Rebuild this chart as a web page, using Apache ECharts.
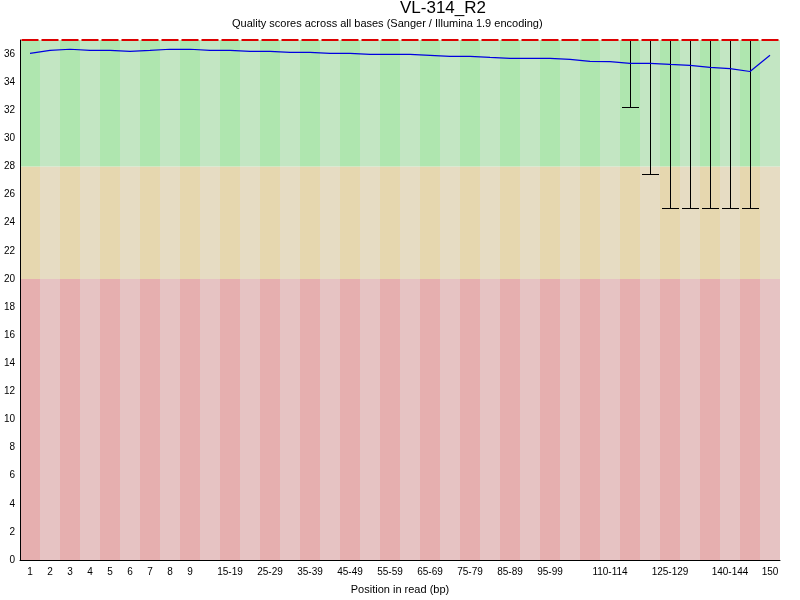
<!DOCTYPE html>
<html>
<head>
<meta charset="utf-8">
<title>VL-314_R2</title>
<script src="https://cdn.jsdelivr.net/npm/echarts@6/dist/echarts.min.js"></script>
<style>
	html, body { margin: 0; padding: 0; background: #fff; }
	#container { width: 800px; height: 600px; }
</style>
</head>
<body>
<div id="container"></div>
<script>
'use strict';

// 碱基位置分组
var positions = ['1', '2', '3', '4', '5', '6', '7', '8', '9',
	'10-14', '15-19', '20-24', '25-29', '30-34', '35-39', '40-44', '45-49',
	'50-54', '55-59', '60-64', '65-69', '70-74', '75-79', '80-84', '85-89',
	'90-94', '95-99', '100-104', '105-109', '110-114', '115-119', '120-124',
	'125-129', '130-134', '135-139', '140-144', '145-149', '150'];

// 显示出来的横轴标签
var shownLabels = [0, 1, 2, 3, 4, 5, 6, 7, 8, 10, 12, 14, 16, 18, 20, 22, 24, 26, 29, 32, 35, 37];

// 平均质量
var meanQuality = [36.05, 36.26, 36.34, 36.26, 36.26, 36.19, 36.26, 36.34, 36.34, 36.26,
	36.26, 36.19, 36.19, 36.12, 36.12, 36.05, 36.05, 35.98, 35.98, 35.98,
	35.91, 35.84, 35.84, 35.76, 35.69, 35.69, 35.69, 35.62, 35.48, 35.46,
	35.34, 35.34, 35.26, 35.19, 35.05, 34.96, 34.76, 35.91];

// 中位数
var medianQuality = [37, 37, 37, 37, 37, 37, 37, 37, 37, 37,
	37, 37, 37, 37, 37, 37, 37, 37, 37, 37,
	37, 37, 37, 37, 37, 37, 37, 37, 37, 37,
	37, 37, 37, 37, 37, 37, 37, 37];

// 10% 分位
var lowerWhisker = [37, 37, 37, 37, 37, 37, 37, 37, 37, 37,
	37, 37, 37, 37, 37, 37, 37, 37, 37, 37,
	37, 37, 37, 37, 37, 37, 37, 37, 37, 37,
	32.2, 27.4, 25, 25, 25, 25, 25, 37];

// 90% 分位
var upperWhisker = [37, 37, 37, 37, 37, 37, 37, 37, 37, 37,
	37, 37, 37, 37, 37, 37, 37, 37, 37, 37,
	37, 37, 37, 37, 37, 37, 37, 37, 37, 37,
	37, 37, 37, 37, 37, 37, 37, 37];

// 背景分区: 差 / 一般 / 好
var zoneEdges = [0, 20, 28, 37];
var zoneColors = [
	['#e6afaf', '#e6c3c3'],
	['#e6d7af', '#e6dcc3'],
	['#afe6af', '#c3e6c3']
];

var font = 'Liberation Sans';

var zoneSeries = [];
for (var z = 0; z < 3; z++) {
	(function(z) {
		zoneSeries.push({
			type: 'bar',
			stack: 'zone',
			silent: true,
			barWidth: '100%',
			barCategoryGap: 0,
			animation: false,
			itemStyle: {
				color: function(p) {
					return zoneColors[z][p.dataIndex % 2];
				}
			},
			data: positions.map(function() {
				return zoneEdges[z + 1] - zoneEdges[z];
			})
		});
	})(z);
}

var boxData = positions.map(function(p, i) {
	return [i, lowerWhisker[i], upperWhisker[i], medianQuality[i]];
});

// 对齐像素, 线条不发虚
function px(v) {
	return Math.round(v - 0.5) + 0.5;
}

function renderBox(params, api) {
	var w = api.size([1, 0])[0] * 0.85;
	var lo = api.coord([api.value(0), api.value(1)]);
	var hi = api.coord([api.value(0), api.value(2)]);
	var md = api.coord([api.value(0), api.value(3)]);
	var x = px(lo[0]);
	var children = [];
	if (api.value(1) < api.value(2)) {
		children.push({
			type: 'line',
			shape: { x1: x, y1: px(lo[1]), x2: x, y2: px(hi[1]) },
			style: { stroke: '#000', lineWidth: 1 }
		});
		children.push({
			type: 'line',
			shape: { x1: x - w / 2, y1: px(lo[1]), x2: x + w / 2, y2: px(lo[1]) },
			style: { stroke: '#000', lineWidth: 1 }
		});
	}
	// 中位数红线
	children.push({
		type: 'line',
		shape: { x1: md[0] - w / 2, y1: Math.round(md[1]), x2: md[0] + w / 2, y2: Math.round(md[1]) },
		style: { stroke: '#dd0000', lineWidth: 2 }
	});
	return { type: 'group', children: children };
}

var myChart = echarts.init(document.getElementById('container'));

var option = {
	animation: false,
	backgroundColor: '#fff',
	title: [{
		text: 'VL-314_R2',
		left: 400,
		top: 0,
		padding: 0,
		textStyle: { fontFamily: font, fontSize: 17, fontWeight: 'normal', color: '#000' }
	}, {
		text: 'Quality scores across all bases (Sanger / Illumina 1.9 encoding)',
		left: 232,
		top: 18,
		padding: 0,
		textStyle: { fontFamily: font, fontSize: 11, fontWeight: 'normal', color: '#000' }
	}],
	grid: {
		left: 20,
		right: 20,
		top: 40,
		bottom: 40
	},
	xAxis: {
		type: 'category',
		data: positions,
		name: 'Position in read (bp)',
		nameLocation: 'middle',
		nameGap: 24,
		nameTextStyle: { fontFamily: font, fontSize: 11, color: '#000' },
		z: 10,
		axisLine: { lineStyle: { color: '#000', width: 1 } },
		axisTick: { show: false },
		axisLabel: {
			margin: 7,
			fontFamily: font,
			fontSize: 10,
			color: '#000',
			interval: function(i) {
				return shownLabels.indexOf(i) >= 0;
			}
		},
		splitLine: { show: false }
	},
	yAxis: {
		type: 'value',
		min: 0,
		max: 37,
		interval: 2,
		z: 10,
		axisLine: { show: true, lineStyle: { color: '#000', width: 1 } },
		axisTick: { show: false },
		axisLabel: {
			margin: 5,
			fontFamily: font,
			fontSize: 10,
			color: '#000',
			showMaxLabel: false
		},
		splitLine: { show: false }
	},
	series: zoneSeries.concat([{
		type: 'custom',
		renderItem: renderBox,
		encode: { x: 0, y: [1, 2, 3] },
		data: boxData,
		silent: true,
		z: 4
	}, {
		type: 'line',
		data: meanQuality,
		symbol: 'none',
		silent: true,
		z: 5,
		lineStyle: { color: '#0000e0', width: 1.2 }
	}])
};

myChart.setOption(option);
</script>
</body>
</html>
